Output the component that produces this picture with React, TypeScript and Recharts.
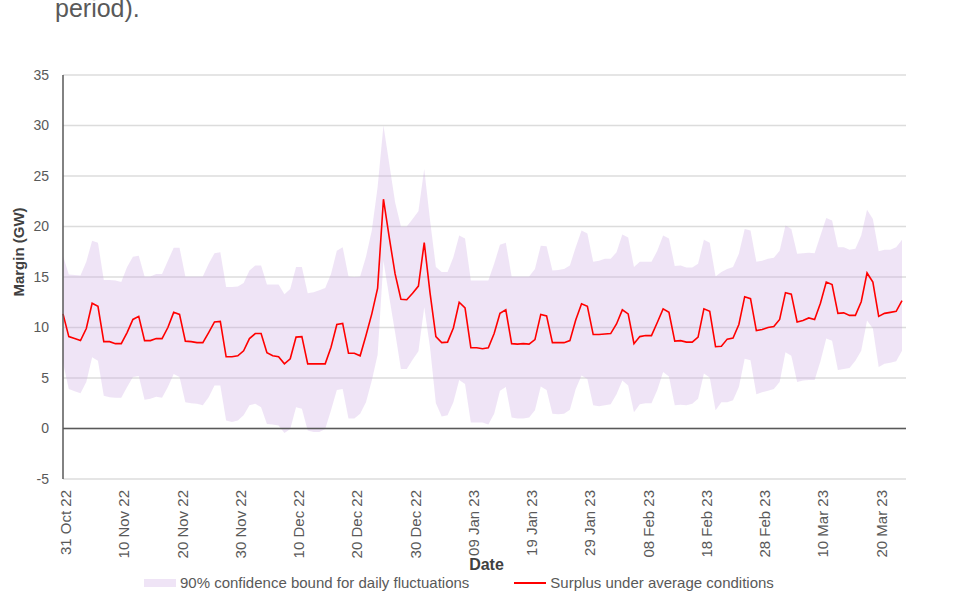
import React from 'react';
import { ComposedChart, Area, Line, XAxis, YAxis, CartesianGrid, ReferenceLine, Legend } from 'recharts';

// surplus under average conditions, GW, one value per day from 31 Oct 22
const surplus = [
  11.35, 9.1, 8.9, 8.7, 9.9, 12.4, 12.1, 8.6, 8.6, 8.4, 8.4, 9.5, 10.8, 11.1, 8.7, 8.7, 8.9, 8.9, 10.0, 11.5,
  11.3, 8.65, 8.6, 8.5, 8.5, 9.5, 10.55, 10.6, 7.1, 7.1, 7.2, 7.7, 8.9, 9.4, 9.4, 7.5, 7.2, 7.1, 6.4, 6.9,
  9.05, 9.1, 6.4, 6.4, 6.4, 6.4, 8.05, 10.3, 10.4, 7.45, 7.45, 7.2, 9.2, 11.35, 13.9, 22.7, 18.9, 15.3, 12.8, 12.75,
  13.4, 14.1, 18.4, 13.4, 9.1, 8.5, 8.55, 9.95, 12.5, 11.95, 8.0, 8.0, 7.9, 8.0, 9.4, 11.4, 11.75, 8.4, 8.35, 8.4,
  8.35, 8.8, 11.3, 11.15, 8.5, 8.5, 8.5, 8.7, 10.75, 12.35, 12.1, 9.3, 9.3, 9.35, 9.4, 10.35, 11.75, 11.35, 8.4, 9.1,
  9.2, 9.2, 10.5, 11.85, 11.5, 8.65, 8.7, 8.55, 8.55, 9.05, 11.85, 11.6, 8.1, 8.15, 8.85, 8.95, 10.3, 13.05, 12.85, 9.7,
  9.8, 10.0, 10.1, 10.8, 13.45, 13.3, 10.55, 10.7, 10.95, 10.8, 12.4, 14.5, 14.25, 11.4, 11.45, 11.2, 11.2, 12.55, 15.4, 14.5,
  11.1, 11.4, 11.5, 11.6, 12.65,
];

// 90% confidence bound, upper edge
const upperBound = [
  17.1, 15.25, 15.2, 15.15, 16.5, 18.6, 18.4, 14.7, 14.7, 14.65, 14.5, 16.0, 17.0, 17.1, 15.05, 15.05, 15.3, 15.3, 16.6, 17.9,
  17.9, 15.05, 15.05, 15.05, 15.05, 16.3, 17.35, 17.45, 14.0, 14.0, 14.05, 14.4, 15.65, 16.15, 16.15, 14.25, 14.25, 14.25, 13.3, 13.8,
  16.0, 16.0, 13.4, 13.5, 13.7, 13.9, 15.3, 17.6, 17.95, 15.05, 15.0, 15.05, 17.0, 19.6, 23.9, 30.0, 26.2, 22.4, 20.0, 20.0,
  20.75, 21.5, 25.7, 20.6, 16.0, 15.5, 15.5, 16.95, 19.1, 18.8, 14.65, 14.65, 14.65, 14.65, 16.3, 18.2, 18.4, 15.05, 15.05, 15.05,
  15.05, 15.8, 18.1, 18.05, 15.65, 15.7, 15.8, 16.15, 17.95, 19.6, 19.3, 16.5, 16.6, 16.8, 16.8, 17.45, 19.2, 18.9, 16.0, 16.5,
  16.5, 16.5, 17.6, 19.1, 18.8, 16.1, 16.15, 15.95, 15.95, 16.3, 18.7, 18.4, 15.05, 15.5, 15.8, 16.0, 17.3, 19.75, 19.6, 16.5,
  16.6, 16.8, 16.9, 17.6, 20.1, 19.75, 17.3, 17.35, 17.4, 17.35, 19.1, 20.85, 20.6, 17.95, 17.95, 17.7, 17.8, 19.1, 21.65, 20.75,
  17.55, 17.7, 17.7, 17.95, 18.7,
];

// 90% confidence bound, lower edge
const lowerBound = [
  6.5, 3.9, 3.7, 3.5, 4.6, 7.05, 6.7, 3.25, 3.1, 3.05, 3.05, 4.1, 5.1, 5.2, 2.85, 2.95, 3.15, 3.05, 4.1, 5.4,
  5.1, 2.6, 2.5, 2.45, 2.3, 3.1, 4.25, 4.25, 0.8, 0.65, 0.8, 1.3, 2.3, 2.45, 2.1, 0.45, 0.4, 0.3, -0.45, -0.05,
  2.1, 1.95, -0.2, -0.35, -0.35, -0.05, 1.8, 3.8, 3.9, 1.0, 1.0, 1.45, 2.6, 4.75, 7.3, 16.6, 13.0, 9.5, 5.9, 5.9,
  6.8, 7.65, 12.0, 8.0, 2.5, 1.2, 1.3, 2.6, 4.8, 4.4, 0.6, 0.6, 0.6, 0.4, 1.45, 3.75, 4.1, 1.1, 1.0, 1.0,
  1.1, 1.8, 4.15, 3.8, 1.45, 1.4, 1.45, 1.85, 3.9, 5.25, 4.9, 2.3, 2.2, 2.3, 2.4, 3.4, 4.75, 4.25, 1.6, 2.4,
  2.5, 2.5, 3.8, 5.6, 5.15, 2.3, 2.35, 2.3, 2.45, 2.95, 5.45, 5.05, 1.8, 2.6, 2.6, 2.8, 4.1, 6.9, 6.75, 3.4,
  3.6, 3.75, 3.9, 4.6, 7.55, 7.2, 4.6, 4.75, 4.8, 4.8, 6.65, 8.9, 8.7, 5.8, 5.9, 6.0, 6.7, 7.7, 10.7, 9.9,
  6.1, 6.4, 6.5, 6.65, 7.7,
];

const tickLabels = [
  '31 Oct 22', '10 Nov 22', '20 Nov 22', '30 Nov 22', '10 Dec 22', '20 Dec 22', '30 Dec 22', '09 Jan 23',
  '19 Jan 23', '29 Jan 23', '08 Feb 23', '18 Feb 23', '28 Feb 23', '10 Mar 23', '20 Mar 23',
];
const yTicks = [-5, 0, 5, 10, 15, 20, 25, 30, 35];

const MONTHS = ['Jan', 'Feb', 'Mar', 'Apr', 'May', 'Jun', 'Jul', 'Aug', 'Sep', 'Oct', 'Nov', 'Dec'];
const startDate = new Date(2022, 9, 31);

const fmtDate = (d: Date) =>
  `${String(d.getDate()).padStart(2, '0')} ${MONTHS[d.getMonth()]} ${String(d.getFullYear()).slice(2)}`;

const data = surplus.map((v, i) => {
  const d = new Date(startDate.getFullYear(), startDate.getMonth(), startDate.getDate() + i);
  return { date: fmtDate(d), surplus: v, band: [lowerBound[i], upperBound[i]] };
});

const FONT = '"Liberation Sans", Arial, sans-serif';
const GREY = '#595959';
const BAND = '#c9a6e0';

const DateTick = (props: any) => {
  const { x, y, payload } = props;
  return (
    <text
      x={x}
      y={y}
      dy={2.5}
      transform={`rotate(-90 ${x} ${y})`}
      textAnchor="end"
      dominantBaseline="central"
      fontSize={15}
      fill={GREY}
      fontFamily={FONT}
    >
      {payload.value}
    </text>
  );
};

const YTitle = (props: any) => {
  const { viewBox } = props;
  const cx = viewBox.x + 10.5;
  const cy = viewBox.y + viewBox.height / 2 - 25;
  return (
    <text
      x={cx}
      y={cy}
      transform={`rotate(-90 ${cx} ${cy})`}
      textAnchor="middle"
      dominantBaseline="central"
      fontSize={15}
      fontWeight="bold"
      fill="#404040"
      fontFamily={FONT}
    >
      Margin (GW)
    </text>
  );
};

const XTitle = (props: any) => {
  const { viewBox } = props;
  return (
    <text
      x={viewBox.x + viewBox.width / 2 + 2}
      y={viewBox.y + viewBox.height - 2}
      textAnchor="middle"
      fontSize={16}
      fontWeight="bold"
      fill="#404040"
      fontFamily={FONT}
    >
      Date
    </text>
  );
};

const LegendBox = () => (
  <div style={{ display: 'flex', alignItems: 'center', marginLeft: 144, fontSize: 15, color: GREY, fontFamily: FONT }}>
    <span style={{ display: 'inline-block', width: 32, height: 8, background: BAND, opacity: 0.3, marginRight: 4 }} />
    <span>90% confidence bound for daily fluctuations</span>
    <span style={{ display: 'inline-block', width: 32, height: 2, background: '#ff0000', marginLeft: 45, marginRight: 4 }} />
    <span>Surplus under average conditions</span>
  </div>
);

const App = () => {
  return (
    <div style={{ position: 'absolute', left: 0, top: 0, width: 960, height: 608, background: '#fff', overflow: 'hidden' }}>
      <div
        style={{
          position: 'absolute',
          left: 55,
          top: -4,
          fontSize: 25,
          lineHeight: '25px',
          color: GREY,
          fontFamily: FONT,
        }}
      >
        period).
      </div>
      <ComposedChart width={960} height={608} data={data} margin={{ top: 75, right: 54, bottom: 36, left: 8 }}>
        <CartesianGrid vertical={false} stroke="#dcdcdc" strokeWidth={1.5} />
        <XAxis
          dataKey="date"
          ticks={tickLabels}
          interval={0}
          height={93}
          tickLine={false}
          axisLine={false}
          tickSize={0}
          tickMargin={11}
          tick={<DateTick />}
          padding={{ left: 0, right: 4 }}
          label={<XTitle />}
        />
        <YAxis
          width={55}
          domain={[-5, 35]}
          ticks={yTicks}
          interval={0}
          tickLine={false}
          tickSize={0}
          tickMargin={14}
          axisLine={{ stroke: GREY, strokeWidth: 1.5 }}
          tick={{ fill: GREY, fontSize: 14, fontFamily: FONT }}
          label={<YTitle />}
        />
        <Area
          dataKey="band"
          stroke="none"
          fill={BAND}
          fillOpacity={0.3}
          isAnimationActive={false}
        />
        <ReferenceLine y={0} stroke={GREY} strokeWidth={1.5} />
        <Line
          dataKey="surplus"
          stroke="#ff0000"
          strokeWidth={1.6}
          dot={false}
          activeDot={false}
          isAnimationActive={false}
        />
        <Legend
          layout="horizontal"
          verticalAlign="middle"
          align="center"
          content={<LegendBox />}
          wrapperStyle={{ top: 574, left: 0, width: 960 }}
        />
      </ComposedChart>
    </div>
  );
};

export default App;
